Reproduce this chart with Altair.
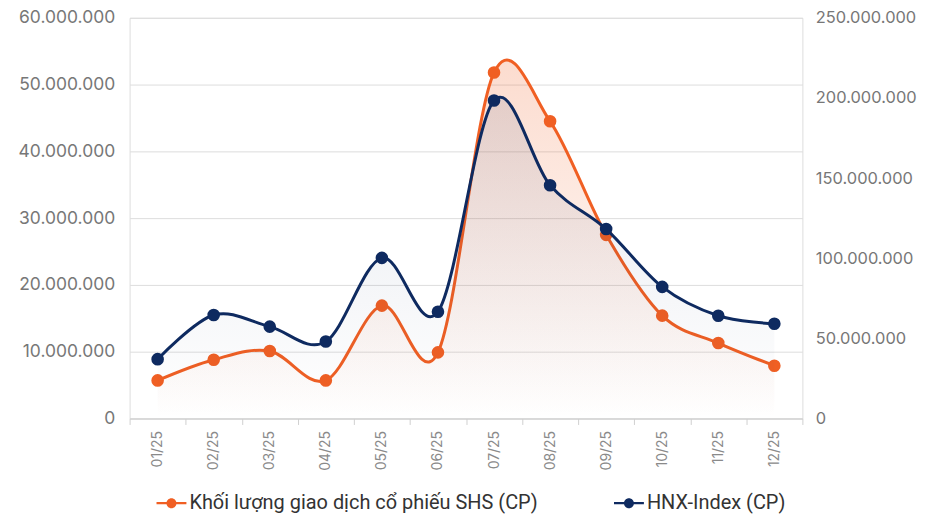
import altair as alt
import pandas as pd

months = ["01/25", "02/25", "03/25", "04/25", "05/25", "06/25",
          "07/25", "08/25", "09/25", "10/25", "11/25", "12/25"]
shs = [5.7e6, 8.8e6, 10.1e6, 5.7e6, 16.9e6, 9.9e6,
       51.8e6, 44.5e6, 27.5e6, 15.4e6, 11.3e6, 7.9e6]
hnx = [37.0e6, 64.6e6, 57.3e6, 48.0e6, 100.2e6, 66.6e6,
       198.4e6, 145.5e6, 118.2e6, 82.1e6, 64.1e6, 59.1e6]

left_ticks = [0, 10e6, 20e6, 30e6, 40e6, 50e6, 60e6]
right_ticks = [0, 50e6, 100e6, 150e6, 200e6, 250e6]

name_shs = "Khối lượng giao dịch cổ phiếu SHS (CP)"
name_hnx = "HNX-Index (CP)"
c_shs = "#F05F23"
c_hnx = "#0E2A60"

df = pd.DataFrame({"month": months, "shs": shs, "hnx": hnx})

FONT = "Inter"
label_expr = "replace(replace(format(datum.value, ','), ',', '.'), ',', '.')"

x_enc = alt.X(
    "month:O", sort=None, bandPosition=0.5,
    scale=alt.Scale(type="band", paddingInner=0, paddingOuter=0),
    axis=alt.Axis(title=None, tickBand="extent", labelAngle=-90, labelFont=FONT,
                  labelFontSize=14, labelColor="#8a8a8a", labelPadding=6,
                  domainColor="#d0d0d0", tickColor="#d0d0d0", tickSize=6, grid=False),
)

color_scale = alt.Scale(domain=[name_shs, name_hnx], range=[c_shs, c_hnx])
legend = alt.Legend(
    title=None, orient="none", direction="horizontal", legendX=32, legendY=477,
    symbolType="M-1.5,-0.11H1.5V0.11H-1.5Z M0.5,0A0.5,0.5 0 1 1 -0.5,0A0.5,0.5 0 1 1 0.5,0Z",
    symbolSize=400, symbolStrokeWidth=0, labelFont="Roboto",
    labelFontSize=20, labelColor="#333333", labelLimit=500, columnPadding=76,
    labelOffset=8,
)

grad_shs = alt.Gradient(
    gradient="linear", x1=0, x2=0, y1=0, y2=1,
    stops=[alt.GradientStop(color="rgba(240,95,35,0.22)", offset=0),
           alt.GradientStop(color="rgba(240,95,35,0.0)", offset=1)],
)
grad_hnx = alt.Gradient(
    gradient="linear", x1=0, x2=0, y1=0, y2=1,
    stops=[alt.GradientStop(color="rgba(14,42,96,0.10)", offset=0),
           alt.GradientStop(color="rgba(14,42,96,0.0)", offset=1)],
)

y_left = alt.Y(
    "shs:Q", scale=alt.Scale(domain=[0, 60e6], nice=False),
    axis=alt.Axis(title=None, orient="left", values=left_ticks, labelExpr=label_expr,
                  labelFont=FONT, labelFontSize=17.5, labelColor="#777777", labelPadding=15,
                  ticks=False, domain=False, grid=True, gridColor="#dddddd"),
)
y_right = alt.Y(
    "hnx:Q", scale=alt.Scale(domain=[0, 250e6], nice=False),
    axis=alt.Axis(title=None, orient="right", values=right_ticks, labelExpr=label_expr,
                  labelFont=FONT, labelFontSize=16.5, labelColor="#777777", labelPadding=13,
                  ticks=False, domain=False, grid=False),
)

base = alt.Chart(df)
interp = "cardinal"

shs_layer = alt.layer(
    base.mark_area(interpolate=interp, fill=grad_shs).encode(x=x_enc, y=y_left),
    base.mark_line(interpolate=interp, color=c_shs, strokeWidth=3).encode(x=x_enc, y=y_left),
    base.transform_calculate(series=f"'{name_shs}'").mark_circle(size=160, opacity=1).encode(
        x=x_enc, y=y_left,
        color=alt.Color("series:N", scale=color_scale, legend=legend)),
)
hnx_layer = alt.layer(
    base.mark_area(interpolate=interp, fill=grad_hnx).encode(x=x_enc, y=y_right),
    base.mark_line(interpolate=interp, color=c_hnx, strokeWidth=3).encode(x=x_enc, y=y_right),
    base.transform_calculate(series=f"'{name_hnx}'").mark_circle(size=160, opacity=1).encode(
        x=x_enc, y=y_right,
        color=alt.Color("series:N", scale=color_scale, legend=legend)),
)

chart = alt.layer(shs_layer, hnx_layer).resolve_scale(y="independent").properties(
    width=675, height=402,
    padding={"left": 10, "top": 0, "right": 0, "bottom": 0},
).configure_view(stroke=None).configure(background="white")

chart.save("out.html", embed_options={"renderer": "svg", "actions": False})
